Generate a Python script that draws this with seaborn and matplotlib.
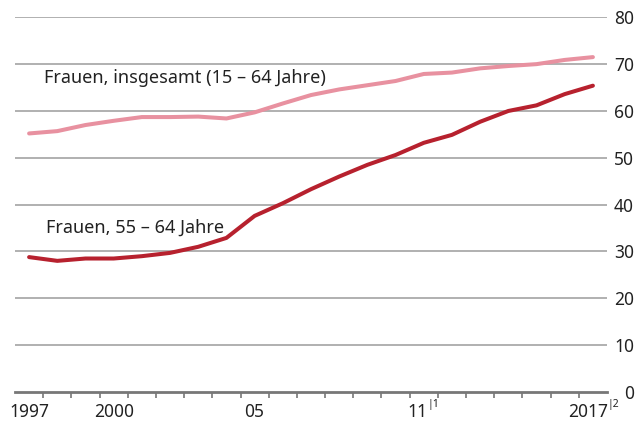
import matplotlib
matplotlib.use("Agg")
import matplotlib.pyplot as plt
import seaborn as sns
import pandas as pd
from matplotlib.ticker import FixedLocator

# Erwerbstätigenquote von Frauen in Deutschland, in %
years = list(range(1997, 2018))
frauen_gesamt = [55.2, 55.7, 57.0, 57.9, 58.7, 58.7, 58.8, 58.4, 59.7, 61.6, 63.4,
                 64.6, 65.5, 66.4, 67.9, 68.2, 69.1, 69.6, 70.0, 70.9, 71.5]
frauen_55_64 = [28.8, 28.0, 28.5, 28.5, 29.0, 29.7, 31.0, 32.9, 37.6, 40.3, 43.3,
                46.0, 48.5, 50.6, 53.2, 54.9, 57.7, 60.0, 61.2, 63.6, 65.4]
label_years = [1997, 2000, 2005, 2011, 2017]
label_texts = ["1997", "2000", "05", "11", "2017"]
label_notes = ["", "", "", "|1", "|2"]
y_ticks = [0, 10, 20, 30, 40, 50, 60, 70, 80]

FONT = "Noto Sans"
TEXT_COLOR = "#222222"
sns.set_theme(style="white")
plt.rcParams["font.family"] = [FONT, "DejaVu Sans"]

df = pd.DataFrame({"Jahr": years + years,
                   "Quote": frauen_gesamt + frauen_55_64,
                   "Gruppe": ["gesamt"] * len(years) + ["55-64"] * len(years)})

fig = plt.figure(figsize=(6.36, 4.21), dpi=100)
ax = fig.add_axes([15 / 636, (421 - 392) / 421, (607 - 15) / 636, (392 - 17.3) / 421])

sns.lineplot(data=df, x="Jahr", y="Quote", hue="Gruppe",
             palette={"gesamt": "#e891a0", "55-64": "#b7212e"},
             linewidth=2.9, ax=ax, legend=False, zorder=3)

ax.set_xlim(1996.5, 2017.5)
ax.set_ylim(0, 80)
ax.set_xlabel("")
ax.set_ylabel("")

# horizontal grid, right-hand value axis
for v in y_ticks[1:]:
    ax.axhline(v, color="#aaaaaa", linewidth=1.3, zorder=1)
ax.yaxis.tick_right()
ax.set_yticks(y_ticks)
ax.set_yticklabels([str(v) for v in y_ticks])
ax.tick_params(axis="y", length=0, pad=19.5, labelsize=12.5, labelcolor=TEXT_COLOR)
for lbl in ax.get_yticklabels():
    lbl.set_horizontalalignment("right")

# year boundary ticks on the base line; year labels drawn as texts with footnote marks
ax.set_xticks([])
ax.xaxis.set_minor_locator(FixedLocator([y + 0.5 for y in years[:-1]]))
ax.tick_params(axis="x", which="minor", bottom=True, length=4.5, width=1.2, color="#777777")

xform = ax.get_xaxis_transform()
for yr, txt, note in zip(label_years, label_texts, label_notes):
    if note:
        main_dx = -6 if len(txt) == 2 else -5
        note_dx = 4 if len(txt) == 2 else 15
        ax.annotate(txt, xy=(yr, 0), xycoords=xform, xytext=(main_dx, -11),
                    textcoords="offset pixels", ha="center", va="top",
                    fontsize=12.5, color=TEXT_COLOR, annotation_clip=False)
        ax.annotate(note, xy=(yr, 0), xycoords=xform, xytext=(note_dx, -7),
                    textcoords="offset pixels", ha="left", va="top",
                    fontsize=7.5, color=TEXT_COLOR, annotation_clip=False)
    else:
        ax.annotate(txt, xy=(yr, 0), xycoords=xform, xytext=(0, -11),
                    textcoords="offset pixels", ha="center", va="top",
                    fontsize=12.5, color=TEXT_COLOR, annotation_clip=False)

for side in ["top", "left", "right"]:
    ax.spines[side].set_visible(False)
ax.spines["bottom"].set_color("#777777")
ax.spines["bottom"].set_linewidth(2.0)

ax.text(1997.53, 66.0, "Frauen, insgesamt (15 – 64 Jahre)", fontsize=13,
        color=TEXT_COLOR, va="baseline", ha="left")
ax.text(1997.6, 33.9, "Frauen, 55 – 64 Jahre", fontsize=13,
        color=TEXT_COLOR, va="baseline", ha="left")

fig.savefig("out.png", dpi=100)
